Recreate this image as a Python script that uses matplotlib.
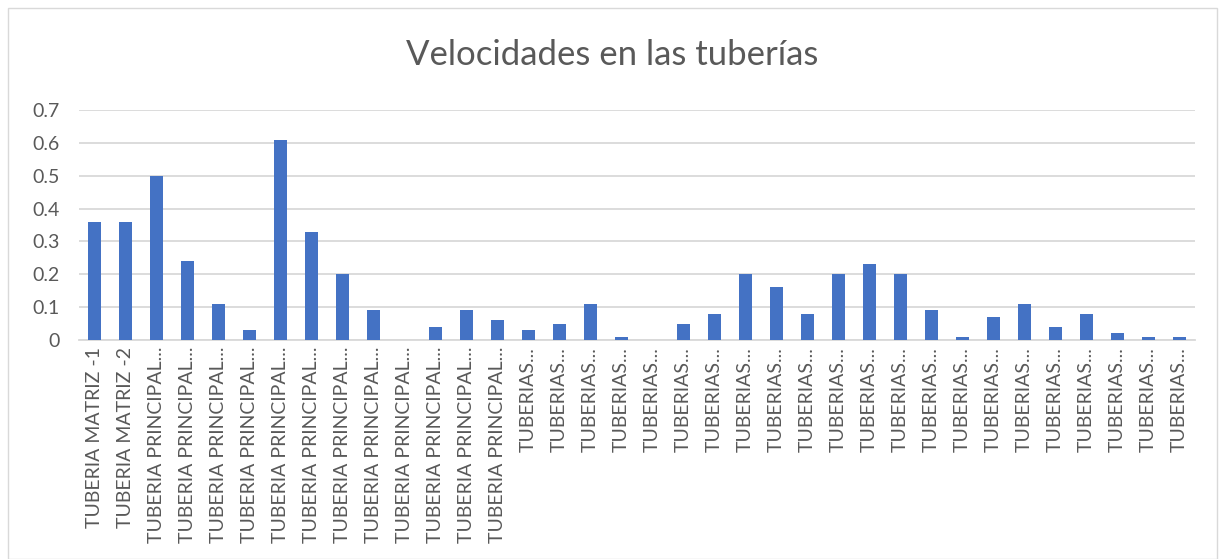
import matplotlib.pyplot as plt
from matplotlib.patches import Rectangle

plt.rcParams['font.family'] = ['Lato', 'DejaVu Sans']

titulo = "Velocidades en las tuberías"
etiquetas = (["TUBERIA MATRIZ -1", "TUBERIA MATRIZ -2"]
             + ["TUBERIA PRINCIPAL..."] * 12
             + ["TUBERIAS..."] * 22)
velocidades = [0.36, 0.36,
               0.50, 0.24, 0.11, 0.03, 0.61, 0.33, 0.20, 0.09, 0.0, 0.04, 0.09, 0.06,
               0.03, 0.05, 0.11, 0.01, 0.0, 0.05, 0.08, 0.20, 0.16, 0.08, 0.20, 0.23,
               0.20, 0.09, 0.01, 0.07, 0.11, 0.04, 0.08, 0.02, 0.01, 0.01]
y_ticks = [0, 0.1, 0.2, 0.3, 0.4, 0.5, 0.6, 0.7]

texto = '#595959'
W, H = 1225, 559
fig = plt.figure(figsize=(W / 100, H / 100), dpi=100)
ax = fig.add_axes([79 / W, (H - 340) / H, (1195 - 79) / W, 230 / H])

x = range(len(velocidades))
ax.bar(x, velocidades, width=0.4, color='#4472C4', zorder=3)

ax.set_xlim(-0.5, len(velocidades) - 0.5)
ax.set_ylim(0, 0.7)
ax.set_yticks(y_ticks)
ax.set_yticklabels([f'{v:g}' for v in y_ticks], fontsize=14, color=texto)
ax.set_xticks(list(x))
ax.set_xticklabels(etiquetas, rotation=90, fontsize=14, color=texto, va='top')
ax.tick_params(length=0, pad=5)
ax.tick_params(axis='y', pad=14)
ax.grid(axis='y', color='#D9D9D9', linewidth=1.3, zorder=0)
for lado in ['top', 'right', 'left']:
    ax.spines[lado].set_visible(False)
ax.spines['bottom'].set_color('#D9D9D9')
ax.spines['bottom'].set_linewidth(1.3)

fig.text(0.5, (H - 55) / H, titulo, ha='center', va='center', fontsize=25, color=texto)

# marco del grafico
fig.patches.append(Rectangle((8 / W, 0), (W - 16) / W, (H - 8) / H, transform=fig.transFigure,
                             fill=False, edgecolor='#D9D9D9', linewidth=1))

fig.savefig('out.png', dpi=100)
